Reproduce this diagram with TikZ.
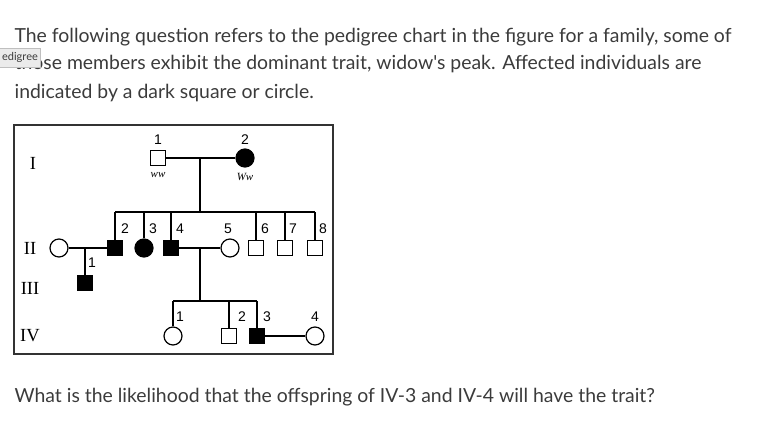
\documentclass[tikz,border=0pt]{standalone}
\usepackage{fontspec}
\setmainfont{Lato}[Ligatures=TeXOff]
\newfontfamily\pedsans{Liberation Sans}
\newfontfamily\pedserif{Liberation Serif}
\usetikzlibrary{calc}
\definecolor{canvastext}{HTML}{3B3B3B}
\definecolor{tipgray}{HTML}{EBEBEB}

\begin{document}
\begin{tikzpicture}[x=1pt, y=-1pt, line width=1.2pt,
  male/.style={rectangle, draw, minimum size=15pt, inner sep=0pt},
  female/.style={circle, draw, minimum size=18pt, inner sep=0pt},
  hit/.style={fill=black},
  num/.style={font=\pedsans\fontsize{14}{14}\selectfont, inner sep=0pt},
  gen/.style={font=\pedserif\fontsize{18.5}{18.5}\selectfont, inner sep=0pt},
  geno/.style={font=\pedserif\itshape\fontsize{11}{11}\selectfont, inner sep=0pt},
  qline/.style={font=\fontsize{19.4}{19.4}\selectfont, text=canvastext, anchor=base west, inner sep=0pt}]
  \useasboundingbox (0,0) rectangle (759,436);

  % question text
  \node[qline] (q1) at (14,42) {The following question refers to the pedigree chart in the figure for a family, some of};
  \node[qline] (q2) at (14,70) {those members exhibit the dominant trait, widow's peak. Affected individuals are};
  \node[qline] (q3) at (14,98) {indicated by a dark square or circle.};
  \node[qline] (q4) at (14,402) {What is the likelihood that the offspring of IV-3 and IV-4 will have the trait?};

  % tooltip over the second line
  \node[fill=tipgray, draw=black!25, line width=0.5pt, minimum width=41pt, minimum height=19pt, inner sep=0pt,
        font=\fontsize{11}{11}\selectfont, text=canvastext] (tip) at (20,57.5) {edigree};

  % frame
  \draw[line width=1.5pt, black!80] (14,125) rectangle (333,354);

  % generation labels
  \node[gen] (gI) at (33,163) {I};
  \node[gen] (gII) at (30,248) {II};
  \node[gen] (gIII) at (30,288) {III};
  \node[gen] (gIV) at (30,336) {IV};

  % generation I
  \node[male] (I1) at (158,158) {};
  \node[female, hit] (I2) at (245,158) {};
  \node[num] at (158,140) {1};
  \node[num] at (245,140) {2};
  \node[geno] at (158,175) {ww};
  \node[geno] at (245,177) {Ww};

  % generation II
  \node[female] (II1) at (59,248) {};
  \node[male, hit] (II2) at (115,248) {};
  \node[female, hit] (II3) at (144,248) {};
  \node[male, hit] (II4) at (171,248) {};
  \node[female] (II5) at (230,248) {};
  \node[male] (II6) at (256,248) {};
  \node[male] (II7) at (285,248) {};
  \node[male] (II8) at (315,248) {};
  \node[num] at (125,229) {2};
  \node[num] at (153,229) {3};
  \node[num] at (180,229) {4};
  \node[num] at (228,229) {5};
  \node[num] at (265,229) {6};
  \node[num] at (293,229) {7};
  \node[num] at (323,229) {8};

  % generation III
  \node[male, hit] (III1) at (85,283) {};
  \node[num] at (92,263) {1};

  % generation IV
  \node[female] (IV1) at (173,336) {};
  \node[male] (IV2) at (229,336) {};
  \node[male, hit] (IV3) at (257,336) {};
  \node[female] (IV4) at (315,336) {};
  \node[num] at (180,317) {1};
  \node[num] at (242,317) {2};
  \node[num] at (267,317) {3};
  \node[num] at (315,317) {4};

  % couples
  \draw (I1) -- (I2);
  \draw (II1) -- (II2);
  \draw (II4) -- (II5);
  \draw (IV3) -- (IV4);

  % descent from I-1 x I-2
  \coordinate (mI) at (200,158);
  \coordinate (sibI) at (200,212);
  \draw (mI) -- (sibI);
  \draw (II2.north |- sibI) -- (II8.north |- sibI);
  \foreach \k in {II2,II3,II4,II6,II7,II8}
    \draw (\k.north) -- (\k.north |- sibI);

  % descent from II-1 x II-2
  \draw (III1.north) -- (III1.north |- II1);

  % descent from II-4 x II-5
  \coordinate (mII) at (200,248);
  \coordinate (sibIV) at (200,301);
  \draw (mII) -- (sibIV);
  \draw (IV1.north |- sibIV) -- (IV3.north |- sibIV);
  \foreach \k in {IV1,IV2,IV3}
    \draw (\k.north) -- (\k.north |- sibIV);
\end{tikzpicture}
\end{document}
